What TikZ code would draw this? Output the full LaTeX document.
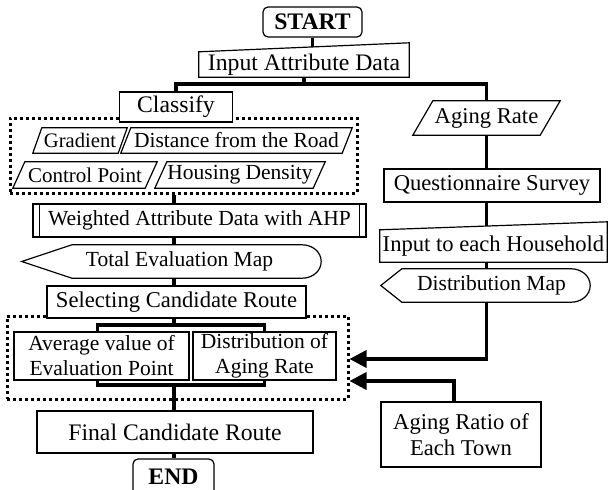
\documentclass[tikz,border=0pt]{standalone}
\usepackage{fontspec}
\setmainfont{Liberation Serif}
\usetikzlibrary{arrows.meta,backgrounds}

\begin{document}
\begin{tikzpicture}[x=1pt,y=-1pt,
	every node/.style={font=\fontsize{21.5}{25}\selectfont, inner sep=0pt, align=center},
	big/.style={font=\fontsize{23.7}{27}\selectfont},
	mid/.style={font=\fontsize{22.6}{25.5}\selectfont},
	sz/.style 2 args={minimum width=#1pt, minimum height=#2pt},
	box/.style={draw, line width=1.2pt, fill=white},
	term/.style={box, rounded corners=5pt, font=\fontsize{23.7}{27}\selectfont\bfseries},
	group/.style={draw, line width=3pt, dash pattern=on 3pt off 3pt},
	outline/.style={draw, line width=1.2pt, fill=white},
	flow/.style={line width=3.5pt},
	>={Triangle[length=17pt,width=17pt]}]
	\useasboundingbox (0,0) rectangle (608,490);
	
	% left column
	\node[term, sz={99}{30}] (start) at (312.5,22) {START};
	\node[big, sz={210}{25}] (input) at (304,64.5) {Input Attribute Data};
	\node[group, sz={347}{75}] (grp1) at (183.5,155.5) {};
	\node[box, big, sz={113}{30}] (cls) at (176,107) {Classify};
	\node[sz={94}{25}, font=\fontsize{20.6}{24}\selectfont] (grad) at (80,140.5) {Gradient};
	\node[sz={231}{25}] (dist) at (236.5,140.5) {Distance from the Road};
	\node[sz={144}{26}, font=\fontsize{21}{24}\selectfont] (ctl) at (85,175) {Control Point};
	\node[sz={170}{26}] (hd) at (240,175) {Housing Density};
	\node[box, sz={333}{33}] (wap) at (199.5,220.5) {Weighted Attribute Data with AHP};
	\draw[line width=1.2pt] ([xshift=7pt]wap.north west) -- ([xshift=7pt]wap.south west)
		([xshift=-7pt]wap.north east) -- ([xshift=-7pt]wap.south east);
	\node[sz={299}{33}] (tem) at (171.5,261.5) {\hspace*{16pt}Total Evaluation Map};
	\node[group, sz={341}{83}] (grp2) at (177.5,357.5) {};
	\node[box, mid, sz={259}{32}] (scr) at (176.5,302) {Selecting Candidate Route};
	\node[box, sz={175}{48}] (avg) at (101.5,356) {Average value of\\Evaluation Point};
	\node[box, sz={143}{48}] (dar) at (264.5,356) {Distribution of\\Aging Rate};
	\node[box, big, sz={276}{42}] (fcr) at (175,432) {Final Candidate Route};
	\node[term, sz={81}{36}] (stop) at (173.5,477) {END};
	
	% right column
	\node[mid, sz={147}{34}] (ar) at (486.5,118) {Aging Rate};
	\node[box, mid, sz={216}{33}] (qs) at (492,185.5) {Questionnaire Survey};
	\node[mid, sz={227}{32}] (ih) at (493.5,246) {Input to each Household};
	\node[sz={209}{33}] (dm) at (485.5,285.5) {\hspace*{12pt}Distribution Map};
	\node[box, mid, sz={160}{65}] (town) at (461,434.5) {Aging Ratio of\\Each Town};
	
	\coordinate (fork) at (304,84);
	\coordinate (topbar) at (174,325);
	\coordinate (botbar) at (174,385);
	
	\begin{scope}[on background layer]
	\draw[flow] (start.south) -- (start.south |- input.north);
	\draw[flow] (input.south) -- (fork);
	\draw[flow] (cls.north) |- (fork) -| (ar.north);
	\draw[flow] (ar.south) -- (ar.south |- qs.north)
		(ar.south |- qs.south) -- (ar.south |- ih.north)
		(ar.south |- ih.south) -- (ar.south |- dm.north);
	\draw[flow,->] (ar.south |- dm.south) |- ([yshift=-1.5pt]grp2.east);
	\draw[flow,->] ([xshift=-7pt]town.north) |- ([yshift=-23.5pt]grp2.east);
	\draw[flow] (grp1.south -| topbar) -- (wap.north -| topbar)
		(wap.south -| topbar) -- (tem.north -| topbar)
		(tem.south -| topbar) -- (scr.north -| topbar)
		(scr.south -| topbar) -- (topbar);
	\draw[flow] ([xshift=-4pt]avg.north) |- (topbar) -| (dar.north);
	\draw[flow] ([xshift=-4pt]avg.south) |- (botbar) -| (dar.south);
	\draw[flow] (botbar) -- (fcr.north -| botbar)
		(fcr.south -| topbar) -- (stop.north -| topbar);
	
	% shapes
	\draw[outline] (input.south west) -- (input.south east) -- ([yshift=9pt]input.north east) -- (input.north west) -- cycle;
	\draw[outline] (ih.south west) -- (ih.south east) -- ([yshift=8pt]ih.north east) -- (ih.north west) -- cycle;
	\foreach \n/\s in {grad/9,dist/10,ctl/12,hd/12,ar/20}
		\draw[outline] ([xshift=\s pt]\n.north west) -- (\n.north east) -- ([xshift=-\s pt]\n.south east) -- (\n.south west) -- cycle;
	\foreach \n/\l in {tem/50,dm/21}
		\draw[outline] (\n.west) -- ([xshift=\l pt]\n.north west) -- ([xshift=-19pt]\n.north east)
			to[out=0,in=90] (\n.east) to[out=-90,in=0] ([xshift=-19pt]\n.south east)
			-- ([xshift=\l pt]\n.south west) -- cycle;
	\end{scope}
\end{tikzpicture}
\end{document}
